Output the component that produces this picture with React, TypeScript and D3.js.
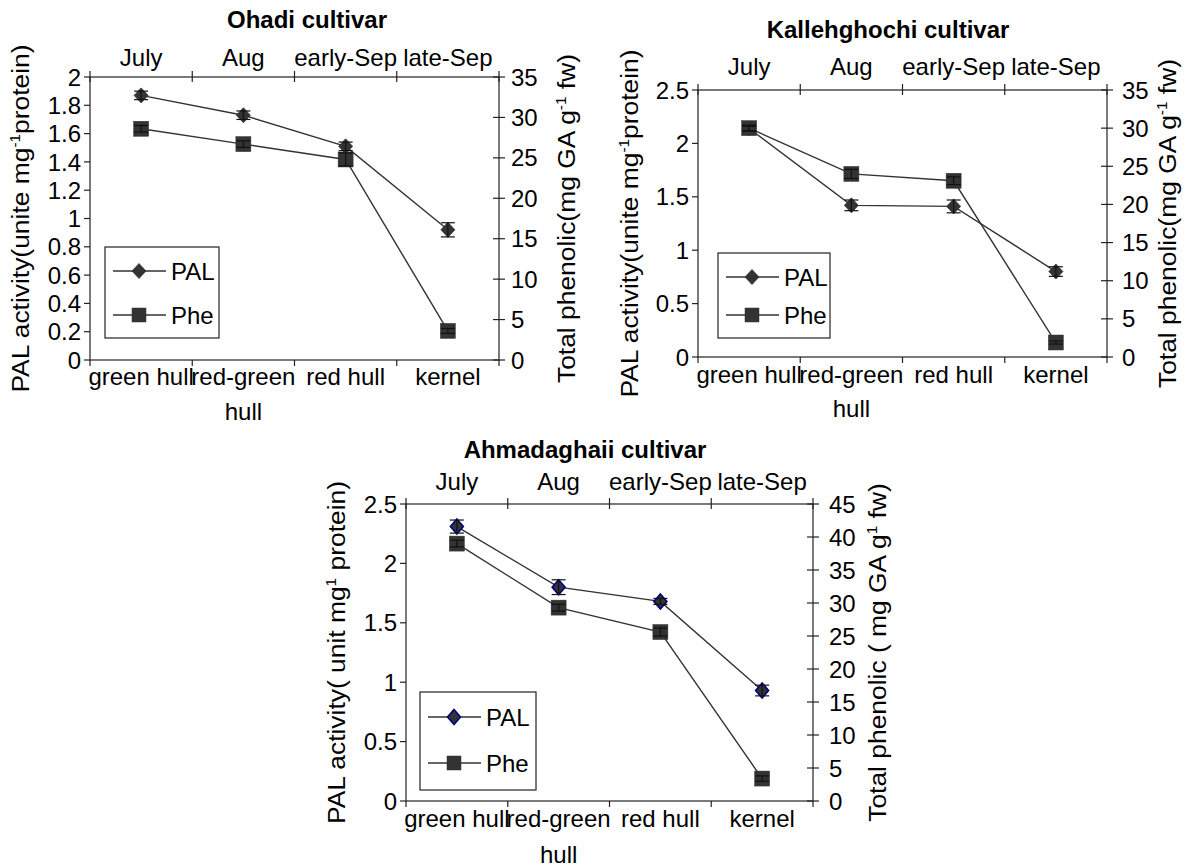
import React from "react";
import * as d3 from "d3";

// ---------- data ----------
const stages = ["green hull", "red-green hull", "red hull", "kernel"];
const stageLabelLines = [["green hull"], ["red-green", "hull"], ["red hull"], ["kernel"]];
const months = ["July", "Aug", "early-Sep", "late-Sep"];

const ohadiPAL = [1.87, 1.73, 1.51, 0.92];
const ohadiPALErr = [0.03, 0.03, 0.03, 0.05];
const ohadiPhe = [28.6, 26.7, 24.8, 3.6];
const ohadiPheErr = [0.4, 0.4, 0.8, 0.3];

const kallePAL = [2.14, 1.42, 1.41, 0.8];
const kallePALErr = [0.02, 0.05, 0.06, 0.045];
const kallePhe = [30.0, 24.0, 23.1, 1.9];
const kallePheErr = [0.4, 0.6, 0.5, 0.2];

const ahmadPAL = [2.31, 1.8, 1.68, 0.93];
const ahmadPALErr = [0.055, 0.062, 0.025, 0.045];
const ahmadPhe = [39.0, 29.3, 25.6, 3.4];
const ahmadPheErr = [0.5, 0.5, 0.6, 0.4];

const leftTicksA = d3.range(0, 2.0001, 0.2);
const leftTicksB = d3.range(0, 2.5001, 0.5);
const rightTicks35 = d3.range(0, 36, 5);
const rightTicks45 = d3.range(0, 46, 5);

// ---------- layout ----------
type Cfg = {
  title: string;
  titleX: number;
  titleY: number;
  left: number;
  right: number;
  top: number;
  bottom: number;
  leftMax: number;
  rightMax: number;
  leftTicks: number[];
  rightTicks: number[];
  pal: number[];
  palErr: number[];
  phe: number[];
  pheErr: number[];
  monthY: number;
  stageY: number;
  stageY2: number;
  leftTitleX: number;
  rightTitleX: number;
  rightLabelDx: number;
  leftTitle: [string, string, string];
  rightTitle: [string, string, string];
  legend: { x: number; y: number; w: number; h: number; r1: number; r2: number };
  blueDiamond: boolean;
};

const charts: Cfg[] = [
  {
    title: "Ohadi cultivar",
    titleX: 307,
    titleY: 28,
    left: 90,
    right: 499,
    top: 77,
    bottom: 360,
    leftMax: 2,
    rightMax: 35,
    leftTicks: leftTicksA,
    rightTicks: rightTicks35,
    pal: ohadiPAL,
    palErr: ohadiPALErr,
    phe: ohadiPhe,
    pheErr: ohadiPheErr,
    monthY: 66,
    stageY: 385,
    stageY2: 420,
    leftTitleX: 29,
    rightTitleX: 575,
    rightLabelDx: 12,
    leftTitle: ["PAL activity(unite mg", "-1", "protein)"],
    rightTitle: ["Total phenolic(mg GA g", "-1", " fw)"],
    legend: { x: 105, y: 247, w: 114, h: 91, r1: 24, r2: 68 },
    blueDiamond: false,
  },
  {
    title: "Kallehghochi cultivar",
    titleX: 888,
    titleY: 38,
    left: 698,
    right: 1107,
    top: 90,
    bottom: 357,
    leftMax: 2.5,
    rightMax: 35,
    leftTicks: leftTicksB,
    rightTicks: rightTicks35,
    pal: kallePAL,
    palErr: kallePALErr,
    phe: kallePhe,
    pheErr: kallePheErr,
    monthY: 75,
    stageY: 383,
    stageY2: 417,
    leftTitleX: 638,
    rightTitleX: 1176,
    rightLabelDx: 15,
    leftTitle: ["PAL activity(unite mg", "-1", "protein)"],
    rightTitle: ["Total phenolic(mg GA g", "-1", " fw)"],
    legend: { x: 718, y: 253, w: 112, h: 85, r1: 24, r2: 62 },
    blueDiamond: false,
  },
  {
    title: "Ahmadaghaii cultivar",
    titleX: 585,
    titleY: 458,
    left: 406,
    right: 813,
    top: 504,
    bottom: 801,
    leftMax: 2.5,
    rightMax: 45,
    leftTicks: leftTicksB,
    rightTicks: rightTicks45,
    pal: ahmadPAL,
    palErr: ahmadPALErr,
    phe: ahmadPhe,
    pheErr: ahmadPheErr,
    monthY: 490,
    stageY: 827,
    stageY2: 863,
    leftTitleX: 345,
    rightTitleX: 886,
    rightLabelDx: 16,
    leftTitle: ["PAL activity( unit mg", "1", " protein)"],
    rightTitle: ["Total phenolic ( mg GA g", "1", " fw)"],
    legend: { x: 420, y: 692, w: 116, h: 98, r1: 25, r2: 71 },
    blueDiamond: true,
  },
];

const FONT = "'Liberation Sans', Arial, Helvetica, sans-serif";
const INK = "#333333";
const AX = "#222222";
const FS = 24;
const TITLE_STRETCH = 1.1;

const fmt = (v: number) => String(+v.toFixed(2));

function Diamond({ x, y, blue }: { x: number; y: number; blue: boolean }) {
  const w = blue ? 6.5 : 7;
  const h = 7.5;
  return (
    <path
      d={`M${x},${y - h}L${x + w},${y}L${x},${y + h}L${x - w},${y}Z`}
      fill={INK}
      stroke={blue ? "#000080" : INK}
      strokeWidth={blue ? 1.6 : 0.8}
    />
  );
}

function Square({ x, y, s }: { x: number; y: number; s: number }) {
  return <rect x={x - s / 2} y={y - s / 2} width={s} height={s} fill={INK} stroke={INK} strokeWidth={0.5} />;
}

function ErrBar({ x, y1, y2 }: { x: number; y1: number; y2: number }) {
  const c = 7;
  return (
    <g stroke="#111" strokeWidth={1.2}>
      <line x1={x} x2={x} y1={y1} y2={y2} />
      <line x1={x - c} x2={x + c} y1={y1} y2={y1} />
      <line x1={x - c} x2={x + c} y1={y2} y2={y2} />
    </g>
  );
}

function Chart({ cfg }: { cfg: Cfg }) {
  const x = d3.scaleBand<string>().domain(stages).range([cfg.left, cfg.right]).padding(0);
  const yL = d3.scaleLinear().domain([0, cfg.leftMax]).range([cfg.bottom, cfg.top]);
  const yR = d3.scaleLinear().domain([0, cfg.rightMax]).range([cfg.bottom, cfg.top]);
  const cx = (i: number) => (x(stages[i]) as number) + x.bandwidth() / 2;
  const bounds = stages.map((s) => x(s) as number).concat([cfg.right]);

  const palPath = d3
    .line<number>()
    .x((_, i) => cx(i))
    .y((d) => yL(d))(cfg.pal) as string;
  const phePath = d3
    .line<number>()
    .x((_, i) => cx(i))
    .y((d) => yR(d))(cfg.phe) as string;

  const midY = (cfg.top + cfg.bottom) / 2;
  const lg = cfg.legend;

  return (
    <g fontFamily={FONT} fill="#000">
      {/* title */}
      <text x={cfg.titleX} y={cfg.titleY} textAnchor="middle" fontWeight="bold" fontSize={FS}>
        {cfg.title}
      </text>

      {/* frame */}
      <rect
        x={cfg.left}
        y={cfg.top}
        width={cfg.right - cfg.left}
        height={cfg.bottom - cfg.top}
        fill="none"
        stroke={AX}
        strokeWidth={1.2}
      />

      {/* top axis ticks & month labels */}
      {bounds.map((b, i) => (
        <line key={"tt" + i} x1={b} x2={b} y1={cfg.top - 6} y2={cfg.top + 5} stroke={AX} strokeWidth={1.2} />
      ))}
      {months.map((m, i) => (
        <text key={"m" + i} x={cx(i)} y={cfg.monthY} textAnchor="middle" fontSize={FS}>
          {m}
        </text>
      ))}

      {/* bottom axis ticks & stage labels */}
      {bounds.map((b, i) => (
        <line key={"bt" + i} x1={b} x2={b} y1={cfg.bottom} y2={cfg.bottom + 6} stroke={AX} strokeWidth={1.2} />
      ))}
      {stageLabelLines.map((lines, i) =>
        lines.map((ln, j) => (
          <text
            key={"s" + i + "-" + j}
            x={cx(i)}
            y={j === 0 ? cfg.stageY : cfg.stageY2}
            textAnchor="middle"
            fontSize={FS}
          >
            {ln}
          </text>
        ))
      )}

      {/* left axis */}
      {cfg.leftTicks.map((t, i) => (
        <g key={"lt" + i}>
          <line x1={cfg.left - 6} x2={cfg.left} y1={yL(t)} y2={yL(t)} stroke={AX} strokeWidth={1.2} />
          <text x={cfg.left - 9} y={yL(t)} dy="0.36em" textAnchor="end" fontSize={FS}>
            {fmt(t)}
          </text>
        </g>
      ))}

      {/* right axis */}
      {cfg.rightTicks.map((t, i) => (
        <g key={"rt" + i}>
          <line x1={cfg.right - 6} x2={cfg.right + 6} y1={yR(t)} y2={yR(t)} stroke={AX} strokeWidth={1.2} />
          <text x={cfg.right + cfg.rightLabelDx} y={yR(t)} dy="0.36em" textAnchor="start" fontSize={FS}>
            {fmt(t)}
          </text>
        </g>
      ))}

      {/* axis titles */}
      <text
        transform={`translate(${cfg.leftTitleX},${midY}) scale(1,${TITLE_STRETCH}) rotate(-90)`}
        textAnchor="middle"
        fontSize={FS}
      >
        {cfg.leftTitle[0]}
        <tspan fontSize={14} dy={-9}>
          {cfg.leftTitle[1]}
        </tspan>
        <tspan dy={9}>{cfg.leftTitle[2]}</tspan>
      </text>
      <text
        transform={`translate(${cfg.rightTitleX},${midY}) scale(1,${TITLE_STRETCH}) rotate(-90)`}
        textAnchor="middle"
        fontSize={FS}
      >
        {cfg.rightTitle[0]}
        <tspan fontSize={14} dy={-9}>
          {cfg.rightTitle[1]}
        </tspan>
        <tspan dy={9}>{cfg.rightTitle[2]}</tspan>
      </text>

      {/* series lines */}
      <path d={palPath} fill="none" stroke={INK} strokeWidth={1.4} />
      <path d={phePath} fill="none" stroke={INK} strokeWidth={1.4} />

      {/* markers */}
      {cfg.pal.map((v, i) => (
        <Diamond key={"pd" + i} x={cx(i)} y={yL(v)} blue={cfg.blueDiamond} />
      ))}
      {cfg.phe.map((v, i) => (
        <Square key={"ps" + i} x={cx(i)} y={yR(v)} s={15} />
      ))}

      {/* error bars */}
      {cfg.pal.map((v, i) => (
        <ErrBar key={"pe" + i} x={cx(i)} y1={yL(v + cfg.palErr[i])} y2={yL(v - cfg.palErr[i])} />
      ))}
      {cfg.phe.map((v, i) => (
        <ErrBar key={"he" + i} x={cx(i)} y1={yR(v + cfg.pheErr[i])} y2={yR(v - cfg.pheErr[i])} />
      ))}

      {/* legend */}
      <rect x={lg.x} y={lg.y} width={lg.w} height={lg.h} fill="#fff" stroke={AX} strokeWidth={1.2} />
      <line x1={lg.x + 8} x2={lg.x + 61} y1={lg.y + lg.r1} y2={lg.y + lg.r1} stroke={INK} strokeWidth={1.4} />
      <Diamond x={lg.x + 34} y={lg.y + lg.r1} blue={cfg.blueDiamond} />
      <text x={lg.x + 66} y={lg.y + lg.r1} dy="0.36em" fontSize={FS}>
        PAL
      </text>
      <line x1={lg.x + 8} x2={lg.x + 61} y1={lg.y + lg.r2} y2={lg.y + lg.r2} stroke={INK} strokeWidth={1.4} />
      <Square x={lg.x + 34} y={lg.y + lg.r2} s={14} />
      <text x={lg.x + 66} y={lg.y + lg.r2} dy="0.36em" fontSize={FS}>
        Phe
      </text>
    </g>
  );
}

export default function App() {
  return (
    <svg
      width={1190}
      height={867}
      viewBox="0 0 1190 867"
      style={{ position: "absolute", left: 0, top: 0, background: "#fff", display: "block" }}
    >
      <rect x={0} y={0} width={1190} height={867} fill="#fff" />
      {charts.map((c, i) => (
        <Chart key={i} cfg={c} />
      ))}
    </svg>
  );
}
